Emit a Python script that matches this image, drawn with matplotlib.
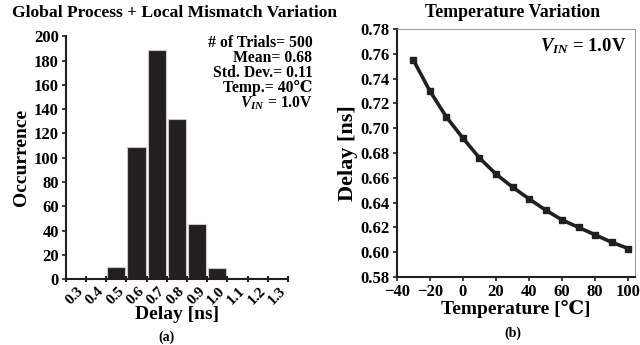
import matplotlib
matplotlib.use("Agg")
import matplotlib.pyplot as plt
import numpy as np

plt.rcParams['font.family'] = ['Liberation Serif', 'DejaVu Serif', 'DejaVu Sans']
plt.rcParams['font.weight'] = 'bold'
plt.rcParams['mathtext.fontset'] = 'custom'
plt.rcParams['mathtext.rm'] = 'Liberation Serif:bold'
plt.rcParams['mathtext.it'] = 'Liberation Serif:italic:bold'
plt.rcParams['mathtext.bf'] = 'Liberation Serif:bold'

# Histogram data
delay_bins = ['0.3', '0.4', '0.5', '0.6', '0.7', '0.8', '0.9', '1.0', '1.1', '1.2', '1.3']
occurrence = [0, 0, 10, 109, 189, 132, 45, 9, 1, 1, 0]

# Temperature sweep data
temperature = [-30, -20, -10, 0, 10, 20, 30, 40, 50, 60, 70, 80, 90, 100]
delay_ns = [0.755, 0.730, 0.709, 0.692, 0.676, 0.663, 0.6525, 0.643, 0.634,
            0.626, 0.620, 0.614, 0.608, 0.603]

ink = '#231f20'
fig = plt.figure(figsize=(6.4, 3.45), dpi=100)

# ---- (a) histogram
ax1 = fig.add_axes([0.103, 0.191, 0.347, 0.704])
x = np.arange(len(delay_bins))
ax1.bar(x, occurrence, width=0.9, color=ink, edgecolor='#c8c8c8', linewidth=0.8)
ax1.set_xlim(-0.5, len(delay_bins) - 0.5)
ax1.set_ylim(0, 200)
ax1.set_yticks(np.arange(0, 201, 20))
ax1.set_xticks(x + 0.05)
ax1.set_xticklabels(delay_bins, rotation=45, ha='right', va='top',
                    rotation_mode='anchor', fontsize=11, fontweight='bold')
ax1.set_xticks(np.arange(-0.5, len(delay_bins)), minor=True)
ax1.tick_params(axis='x', which='major', length=0, pad=4)
ax1.tick_params(axis='x', which='minor', length=4, width=1.5, direction='inout', color=ink)
ax1.tick_params(axis='y', length=3, width=1.2, direction='out', color=ink, labelsize=12, pad=2)
for lab in ax1.get_yticklabels():
    lab.set_fontweight('bold')
for s in ['top', 'right']:
    ax1.spines[s].set_visible(False)
for s in ['left', 'bottom']:
    ax1.spines[s].set_linewidth(1.5)
    ax1.spines[s].set_color(ink)
ax1.set_ylabel('Occurrence', fontsize=14, fontweight='bold', labelpad=3)
ax1.set_xlabel('Delay [ns]', fontsize=14, fontweight='bold', labelpad=-1)
fig.text(0.260, 0.022, '(a)', ha='center', va='center', fontsize=10, fontweight='bold')
fig.text(0.272, 0.962, 'Global Process + Local Mismatch Variation', ha='center',
         va='center', fontsize=12.6, fontweight='bold')
stats = ['# of Trials= 500', 'Mean= 0.68', 'Std. Dev.= 0.11', 'Temp.= 40℃',
         r'$V_{IN}$ = 1.0V']
for i, t in enumerate(stats):
    ax1.text(1.11, 0.955 - i * 0.062, t, transform=ax1.transAxes, ha='right',
             va='baseline', fontsize=11.3, fontweight='bold')

# ---- (b) temperature
ax2 = fig.add_axes([0.620, 0.197, 0.372, 0.719])
ax2.plot(temperature, delay_ns, color=ink, linewidth=2.6, marker='s',
         markersize=4.5, markerfacecolor=ink, markeredgecolor=ink)
ax2.set_xlim(-40, 104)
ax2.set_ylim(0.58, 0.78)
ax2.set_xticks(np.arange(-40, 101, 20))
ax2.set_yticks(np.arange(0.58, 0.781, 0.02))
ax2.set_yticklabels([f'{v:.2f}' for v in np.arange(0.58, 0.781, 0.02)])
ax2.tick_params(axis='both', length=3, width=1.2, direction='out', color=ink,
                labelsize=12, pad=2)
for lab in ax2.get_xticklabels() + ax2.get_yticklabels():
    lab.set_fontweight('bold')
for s in ['left', 'bottom']:
    ax2.spines[s].set_linewidth(1.5)
    ax2.spines[s].set_color(ink)
for s in ['top', 'right']:
    ax2.spines[s].set_linewidth(0.6)
    ax2.spines[s].set_color('#888888')
ax2.set_ylabel('Delay [ns]', fontsize=16, fontweight='bold', labelpad=2)
ax2.set_xlabel('Temperature [℃]', fontsize=14, fontweight='bold', labelpad=0)
fig.text(0.802, 0.035, '(b)', ha='center', va='center', fontsize=10, fontweight='bold')
fig.text(0.8016, 0.963, 'Temperature Variation', ha='center', va='center',
         fontsize=12.8, fontweight='bold')
ax2.text(0.965, 0.93, r'$V_{IN}$ = 1.0V', transform=ax2.transAxes, ha='right',
         va='center', fontsize=13.5, fontweight='bold')

fig.savefig('out.png', dpi=100)
